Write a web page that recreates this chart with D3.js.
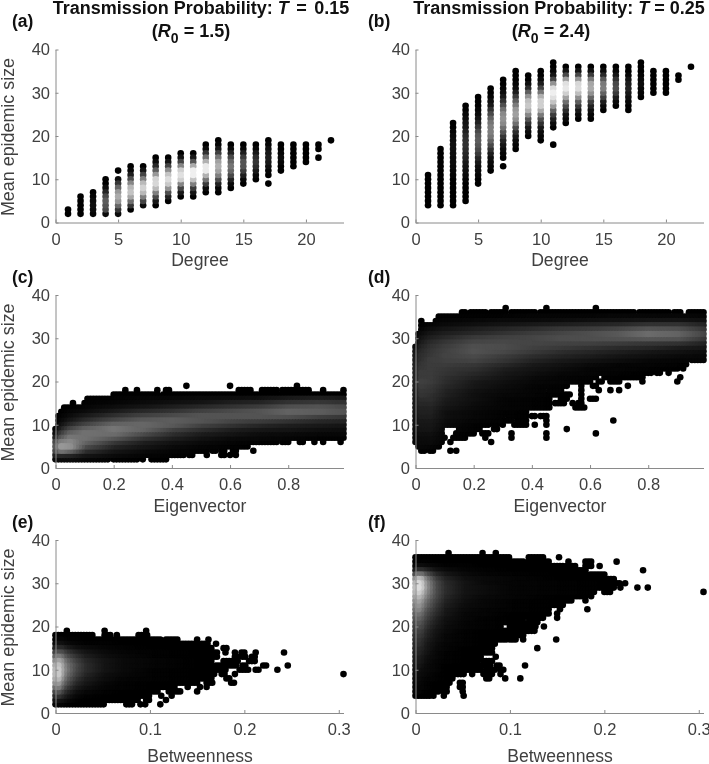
<!DOCTYPE html>
<html>
<head>
<meta charset="utf-8">
<script src="https://cdn.jsdelivr.net/npm/d3@7"></script>
<style>
  html, body { margin: 0; background: #fff; overflow: hidden; }
  text { font-family: "Liberation Sans", Arial, sans-serif; }
  svg { display: block; filter: blur(0.35px); }
</style>
</head>
<body>
<script>
"use strict";

// tick labels
var sizeTicks = [0, 10, 20, 30, 40];
var degreeTicks = [0, 5, 10, 15, 20];
var eigenTicks = [0, 0.2, 0.4, 0.6, 0.8];
var betweenTicks = [0, 0.1, 0.2, 0.3];

// panels a, b: one column per degree. low = first size level, shades from there up
// (0 black .. 100 white, null = no point at that level)
var degrees = d3.range(1, 23);
var lowA = [2, 2, 2, 2, 2, 3, 4, 4, 5, 6, 6, 7, 7, 8, 9, 10, 9, 12, 13, 14, 15, 19];
var shadeA = [
  [0, 0],
  [0, 0, 0, 0, 0],
  [2, 5, 6, 5, 2, 0],
  [5, 30, 35, 38, 30, 15, 6, 0, 0],
  [5, 22, 42, 62, 70, 62, 42, 22, 6, null, 0],
  [0, 22, 45, 68, 80, 75, 55, 32, 12, 3, 0],
  [4, 28, 52, 76, 86, 76, 52, 28, 8, 0],
  [0, 10, 30, 52, 76, 88, 86, 62, 38, 16, 4, 0],
  [0, 14, 32, 60, 82, 90, 80, 58, 28, 8, 0],
  [0, 10, 28, 55, 85, 92, 85, 55, 28, 8, 0],
  [0, 8, 24, 52, 80, 98, 98, 70, 35, 10, 0],
  [0, 5, 24, 48, 72, 96, 96, 72, 45, 20, 5, 0],
  [0, 2, 14, 32, 52, 66, 72, 66, 48, 26, 10, 2, 0],
  [0, 4, 14, 30, 42, 48, 42, 30, 14, 4, 0],
  [0, 3, 12, 24, 34, 34, 24, 12, 3, 0],
  [0, 3, 10, 18, 22, 18, 10, 3, 0],
  [0, null, 0, 2, 6, 10, 12, 10, 6, 2, 0],
  [0, 0, 3, 5, 3, 0, 0],
  [0, 0, 0, 0, 0, 0],
  [0, 0, 0, 0, 0],
  [0, null, 0, 0],
  [0]
];
var lowB = [4, 4, 4, 5, 9, 12, 13, 17, 20, 19, 18, 23, 24, 24, 26, 27, 26, 29, 30, 30, 33, 36];
var shadeB = [
  [0, 0, 0, 0, 0, 0, 0, 0],
  [0, 0, 0, 0, 0, 0, 0, 0, 0, 0, 0, 0, 0, 0],
  [0, 0, 0, 0, 0, 0, 0, 2, 3, 4, 5, 5, 6, 6, 6, 5, 4, 2, 0, 0],
  [0, 0, 0, 0, 0, 2, 4, 6, 8, 10, 14, 16, 18, 20, 20, 18, 14, 10, 8, 5, 3, 0, 0],
  [0, 0, 2, 4, 6, 10, 16, 24, 30, 35, 38, 36, 30, 22, 14, 8, 4, 2, 0, 0, 0],
  [0, 2, 4, 6, 12, 20, 30, 40, 48, 52, 52, 48, 40, 30, 20, 10, 6, 2, 0, 0],
  [0, null, 0, 2, 4, 8, 14, 22, 34, 46, 56, 60, 56, 46, 32, 20, 10, 5, 2, 0, 0],
  [0, 2, 5, 10, 18, 30, 45, 58, 65, 62, 50, 38, 24, 12, 5, 2, 0, 0, 0],
  [0, 4, 10, 20, 34, 55, 72, 82, 78, 60, 38, 18, 6, 0, 0],
  [0, 2, 5, 10, 20, 32, 50, 70, 85, 85, 72, 48, 28, 12, 4, 0, 0],
  [0, null, null, null, 0, 4, 12, 24, 40, 62, 80, 92, 98, 90, 60, 28, 8, 2, 0, 0],
  [0, 4, 8, 18, 30, 45, 66, 85, 95, 92, 65, 30, 8, 0],
  [0, 4, 10, 22, 38, 58, 78, 90, 88, 62, 30, 8, 0],
  [0, 2, 6, 14, 26, 42, 60, 70, 68, 50, 24, 6, 0],
  [0, 4, 12, 26, 40, 52, 50, 36, 16, 4, 0],
  [0, 4, 12, 24, 32, 30, 20, 8, 2, 0],
  [0, 0, 3, 6, 10, 14, 12, 8, 3, 0, 0],
  [0, 2, 3, 5, 4, 2, 0, 0, 0],
  [0, 0, 0, 0, 0, 0],
  [0, 0, 0, 0, 0, 0],
  [0, 0],
  [0]
];

// panels c-f: runs of points per size level, first row = first level, [from, to] on x.
// shade tables: one row per level, one value per anchor in the bins array
var eigenBins = [0, 0.02, 0.05, 0.1, 0.2, 0.3, 0.4, 0.5, 0.6, 0.7, 0.8, 0.9, 0.99];
var betweenBins = [0, 0.003, 0.006, 0.01, 0.02, 0.03, 0.05, 0.07, 0.1, 0.15];

var runsC = [
  [[0, .18], [.2, .28], [.3, .3], [.33, .38]],
  [[0, .44], [.46, .47], [.52, .52], [.57, .58], [.6, .6], [.62, .62]],
  [[0, .52], [.54, .55], [.57, .58], [.61, .62], [.68, .68]],
  [[0, .6], [.62, .66]],
  [[0, .76], [.78, .8], [.84, .85], [.89, .89], [.92, .92], [.98, .98]],
  [[0, .99]],
  [[0, .99]],
  [[0, .99]],
  [[.01, .99]],
  [[.01, .99]],
  [[.01, .99]],
  [[.02, .99]],
  [[.03, .99]],
  [[.06, .06], [.1, .99]],
  [[.11, .99]],
  [[.2, .35], [.37, .99]],
  [[.24, .24], [.28, .28], [.35, .35], [.38, .39], [.63, .67], [.71, .76], [.78, .87], [.92, .92], [.99, .99]],
  [[.45, .45], [.6, .6], [.83, .83]]
];
var shadeC = [
  [4, 5, 5, 3, 1, 0, 0, 0, 0, 0, 0, 0, 0],
  [14, 16, 14, 8, 4, 2, 1, 0, 0, 0, 0, 0, 0],
  [30, 46, 38, 18, 8, 4, 2, 1, 0, 0, 0, 0, 0],
  [36, 62, 58, 30, 14, 8, 4, 2, 1, 0, 0, 0, 0],
  [30, 50, 55, 40, 22, 12, 7, 4, 2, 1, 1, 0, 0],
  [14, 34, 48, 46, 34, 20, 12, 7, 4, 3, 2, 1, 1],
  [6, 22, 38, 46, 44, 30, 18, 11, 8, 5, 4, 3, 3],
  [2, 12, 26, 38, 48, 40, 26, 18, 12, 9, 8, 6, 5],
  [0, 6, 15, 26, 40, 42, 36, 26, 20, 15, 12, 10, 8],
  [0, 3, 8, 16, 28, 36, 38, 34, 28, 24, 20, 16, 14],
  [0, 1, 4, 9, 18, 26, 30, 34, 34, 34, 32, 26, 22],
  [0, 0, 2, 4, 10, 16, 20, 26, 30, 34, 40, 38, 34],
  [0, 0, 0, 2, 5, 8, 12, 16, 20, 24, 32, 34, 30],
  [0, 0, 0, 1, 2, 4, 6, 8, 12, 14, 20, 22, 20],
  [0, 0, 0, 0, 1, 2, 3, 4, 5, 6, 10, 12, 10]
];

var runsD = [
  [[.02, .03], [.05, .06], [.12, .12], [.14, .14]],
  [[.01, .08]],
  [[0, .09], [.12, .12], [.26, .26]],
  [[0, .1], [.13, .17], [.24, .24], [.33, .33], [.45, .45]],
  [[0, .09], [.14, .2], [.23, .25], [.33, .33], [.45, .45], [.62, .62]],
  [[0, .09], [.15, .22], [.27, .28], [.52, .52]],
  [[0, .25], [.27, .28], [.3, .3], [.34, .38], [.41, .41], [.45, .45]],
  [[0, .27], [.29, .33], [.35, .38], [.45, .45], [.68, .68]],
  [[0, .3], [.32, .38], [.4, .41], [.43, .45]],
  [[0, .38]],
  [[0, .46], [.55, .58]],
  [[0, .46], [.48, .51], [.54, .54], [.56, .57]],
  [[0, .4], [.42, .46], [.5, .52], [.57, .57], [.6, .62]],
  [[0, .53], [.57, .57]],
  [[0, .44], [.46, .5], [.57, .57], [.63, .63], [.67, .67], [.7, .7]],
  [[0, .52], [.57, .57], [.61, .62], [.73, .73]],
  [[0, .6], [.63, .64], [.67, .7], [.78, .78], [.9, .9]],
  [[0, .62], [.65, .78], [.91, .91]],
  [[0, .8], [.81, .81], [.83, .84], [.87, .87]],
  [[0, .9], [.92, .92]],
  [[0, .93]],
  [[0, .93], [.95, .99]],
  [[0, .99]],
  [[0, .99]],
  [[0, .99]],
  [[.01, .99]],
  [[.01, .99]],
  [[.01, .99]],
  [[.02, .99]],
  [[.02, .99]],
  [[.02, .02], [.07, .99]],
  [[.08, .99]],
  [[.16, .17], [.19, .24], [.26, .31], [.33, .36], [.37, .41], [.43, .55], [.56, .61], [.63, .75], [.77, .87], [.89, .91], [.94, .99]],
  [[.31, .31], [.45, .45], [.62, .62]]
];
var shadeD = [
  [0, 0, 0, 0, 0, 0, 0, 0, 0, 0, 0, 0, 0],
  [2, 3, 2, 0, 0, 0, 0, 0, 0, 0, 0, 0, 0],
  [2, 4, 4, 1, 0, 0, 0, 0, 0, 0, 0, 0, 0],
  [3, 5, 5, 2, 0, 0, 0, 0, 0, 0, 0, 0, 0],
  [4, 6, 6, 2, 0, 0, 0, 0, 0, 0, 0, 0, 0],
  [5, 8, 8, 3, 1, 0, 0, 0, 0, 0, 0, 0, 0],
  [6, 9, 9, 4, 1, 0, 0, 0, 0, 0, 0, 0, 0],
  [6, 10, 10, 5, 2, 1, 0, 0, 0, 0, 0, 0, 0],
  [7, 12, 12, 6, 3, 1, 0, 0, 0, 0, 0, 0, 0],
  [8, 13, 13, 6, 3, 1, 0, 0, 0, 0, 0, 0, 0],
  [9, 14, 14, 8, 4, 2, 1, 0, 0, 0, 0, 0, 0],
  [10, 16, 16, 10, 5, 2, 1, 0, 0, 0, 0, 0, 0],
  [10, 18, 18, 11, 6, 2, 1, 0, 0, 0, 0, 0, 0],
  [11, 21, 19, 13, 6, 3, 2, 0, 0, 0, 0, 0, 0],
  [12, 22, 21, 14, 7, 4, 2, 1, 0, 0, 0, 0, 0],
  [13, 24, 22, 16, 9, 5, 2, 1, 0, 0, 0, 0, 0],
  [13, 26, 24, 18, 10, 6, 3, 2, 0, 0, 0, 0, 0],
  [14, 24, 24, 19, 13, 8, 4, 2, 1, 0, 0, 0, 0],
  [14, 24, 24, 21, 16, 10, 6, 3, 2, 1, 0, 0, 0],
  [14, 22, 24, 22, 19, 12, 8, 5, 2, 2, 1, 0, 0],
  [13, 21, 24, 24, 22, 16, 10, 7, 4, 2, 2, 1, 1],
  [11, 19, 24, 26, 27, 21, 14, 10, 7, 5, 3, 2, 2],
  [10, 18, 22, 27, 30, 24, 18, 14, 11, 8, 6, 4, 3],
  [8, 16, 21, 26, 33, 29, 23, 18, 15, 12, 9, 7, 5],
  [5, 13, 19, 24, 32, 31, 26, 23, 20, 17, 15, 11, 9],
  [2, 10, 16, 21, 28, 29, 28, 27, 26, 24, 22, 20, 14],
  [0, 7, 12, 16, 23, 26, 28, 31, 32, 33, 35, 33, 22],
  [0, 4, 8, 12, 16, 20, 24, 28, 32, 36, 44, 40, 28],
  [0, 2, 5, 8, 12, 15, 18, 22, 24, 28, 34, 32, 22],
  [0, 1, 2, 4, 6, 8, 10, 12, 14, 16, 20, 20, 14],
  [0, 0, 1, 2, 3, 4, 4, 5, 6, 7, 8, 8, 6],
  [0, 0, 0, 1, 1, 1, 2, 2, 2, 3, 3, 3, 2]
];

var runsE = [
  [[0, .051], [.075, .08], [.09, .09], [.095, .095], [.111, .111]],
  [[0, .088], [.096, .099], [.117, .117]],
  [[0, .1], [.112, .112], [.123, .123]],
  [[0, .108], [.12, .132], [.15, .15]],
  [[0, .125], [.14, .141], [.153, .153], [.16, .16]],
  [[0, .15], [.16, .165], [.186, .189]],
  [[0, .165], [.181, .183]],
  [[0, .168], [.176, .18], [.19, .19], [.305, .305]],
  [[0, .18], [.195, .204], [.212, .216], [.235, .235]],
  [[0, .165], [.17, .19], [.198, .2], [.22, .224], [.246, .246]],
  [[0, .165], [.178, .192], [.205, .21]],
  [[0, .17], [.19, .192], [.198, .2], [.208, .212]],
  [[0, .17], [.18, .18], [.19, .19], [.197, .2], [.212, .212], [.242, .242]],
  [[0, .165], [.178, .182]],
  [[0, .15], [.155, .16], [.17, .17]],
  [[0, .11], [.117, .128], [.15, .15], [.162, .162]],
  [[0, .04], [.052, .058], [.065, .065], [.088, .098]],
  [[.012, .012], [.052, .052], [.096, .096]]
];
var shadeE = [
  [2, 2, 2, 1, 0, 0, 0, 0, 0, 0],
  [8, 8, 7, 4, 1, 0, 0, 0, 0, 0],
  [18, 20, 15, 9, 3, 1, 0, 0, 0, 0],
  [30, 34, 26, 16, 6, 3, 1, 0, 0, 0],
  [45, 50, 38, 24, 11, 6, 2, 1, 0, 0],
  [60, 62, 48, 33, 16, 9, 3, 1, 0, 0],
  [70, 74, 58, 40, 21, 12, 5, 2, 1, 0],
  [76, 82, 66, 46, 26, 15, 6, 3, 1, 0],
  [76, 82, 68, 50, 29, 18, 8, 4, 1, 0],
  [70, 78, 66, 48, 30, 18, 8, 4, 2, 0],
  [58, 66, 58, 42, 26, 16, 8, 4, 2, 0],
  [42, 50, 44, 32, 20, 12, 6, 3, 1, 0],
  [28, 32, 30, 22, 13, 8, 4, 2, 1, 0],
  [14, 17, 16, 11, 6, 4, 2, 1, 0, 0],
  [5, 7, 6, 4, 2, 1, 1, 0, 0, 0],
  [1, 2, 2, 1, 1, 0, 0, 0, 0, 0]
];

var runsF = [
  [[0, .015], [.019, .019], [.03, .03], [.051, .051]],
  [[0, .024], [.03, .033], [.05, .05]],
  [[0, .02], [.024, .033], [.047, .05]],
  [[0, .035], [.047, .05]],
  [[0, .04], [.075, .078], [.095, .095], [.111, .111]],
  [[0, .05], [.06, .06], [.072, .082], [.09, .09]],
  [[0, .07], [.075, .085], [.09, .092]],
  [[0, .065], [.07, .08], [.086, .09], [.116, .116]],
  [[0, .065], [.072, .08]],
  [[0, .068], [.085, .085]],
  [[0, .082]],
  [[0, .08], [.129, .129]],
  [[0, .085]],
  [[0, .095], [.1, .105], [.114, .114], [.149, .149]],
  [[0, .1], [.105, .115]],
  [[0, .11], [.115, .118], [.12, .125]],
  [[0, .09], [.1, .128], [.136, .136]],
  [[0, .115], [.12, .13]],
  [[0, .115], [.12, .135], [.15, .15]],
  [[0, .14], [.15, .15]],
  [[0, .14], [.153, .153], [.182, .182]],
  [[0, .155]],
  [[0, .165], [.18, .18]],
  [[0, .18], [.186, .186]],
  [[0, .19], [.2, .205], [.305, .305]],
  [[0, .21], [.217, .218], [.235, .235], [.246, .246]],
  [[0, .215], [.222, .222]],
  [[0, .21]],
  [[0, .18], [.185, .2]],
  [[0, .18], [.241, .241]],
  [[0, .155], [.16, .17], [.18, .187], [.195, .195]],
  [[0, .115], [.12, .14], [.162, .162], [.18, .185], [.213, .213]],
  [[0, .1], [.12, .135], [.152, .152]],
  [[.035, .035], [.071, .071], [.085, .085]]
];
var shadeF = [
  [0, 0, 0, 0, 0, 0, 0, 0, 0, 0],
  [2, 2, 1, 0, 0, 0, 0, 0, 0, 0],
  [2, 2, 2, 1, 0, 0, 0, 0, 0, 0],
  [3, 3, 2, 1, 0, 0, 0, 0, 0, 0],
  [4, 4, 3, 2, 1, 0, 0, 0, 0, 0],
  [5, 5, 4, 3, 1, 0, 0, 0, 0, 0],
  [6, 6, 5, 4, 2, 0, 0, 0, 0, 0],
  [8, 8, 6, 4, 2, 0, 0, 0, 0, 0],
  [10, 10, 8, 5, 2, 1, 0, 0, 0, 0],
  [11, 11, 9, 6, 3, 1, 0, 0, 0, 0],
  [13, 14, 11, 8, 3, 1, 0, 0, 0, 0],
  [15, 15, 13, 9, 4, 2, 0, 0, 0, 0],
  [16, 18, 15, 10, 5, 2, 1, 0, 0, 0],
  [18, 20, 17, 12, 6, 3, 1, 0, 0, 0],
  [20, 23, 20, 14, 7, 3, 1, 0, 0, 0],
  [23, 26, 23, 16, 8, 4, 1, 0, 0, 0],
  [26, 30, 27, 19, 10, 5, 2, 1, 0, 0],
  [30, 35, 30, 22, 12, 6, 2, 1, 0, 0],
  [34, 40, 35, 26, 14, 7, 3, 1, 0, 0],
  [40, 46, 40, 30, 17, 9, 3, 2, 0, 0],
  [46, 54, 46, 34, 20, 10, 4, 2, 1, 0],
  [52, 60, 52, 40, 23, 12, 5, 3, 1, 0],
  [58, 66, 58, 44, 26, 14, 6, 3, 1, 0],
  [66, 74, 66, 50, 29, 16, 7, 4, 2, 0],
  [74, 84, 74, 56, 31, 18, 8, 5, 2, 1],
  [78, 90, 82, 60, 31, 18, 8, 5, 2, 1],
  [74, 88, 80, 58, 30, 17, 8, 4, 2, 1],
  [60, 76, 70, 50, 25, 14, 6, 4, 2, 0],
  [32, 46, 44, 32, 16, 9, 4, 2, 1, 0],
  [12, 18, 18, 14, 7, 4, 2, 1, 0, 0],
  [3, 5, 5, 4, 2, 1, 1, 0, 0, 0],
  [0, 1, 1, 1, 0, 0, 0, 0, 0, 0]
];

var gray = d3.scaleLinear().domain([0, 100]).range(["#000000", "#f4f4f4"]);

// points of a degree panel
function degreePoints(low, shade) {
  var pts = [];
  degrees.forEach(function(k, i) {
    shade[i].forEach(function(s, j) {
      if (s !== null) pts.push({x: k, y: low[i] + j, s: s});
    });
  });
  return pts;
}

// points of a dense panel, runs stepped on the x grid
function densePoints(firstLevel, runs, shade, bins, step) {
  var pts = [];
  runs.forEach(function(levelRuns, i) {
    var ramp = shade[i] ? d3.scaleLinear().domain(bins).range(shade[i]) : function() { return 0; };
    levelRuns.forEach(function(run) {
      d3.range(run[0], run[1] + step / 2, step).forEach(function(x) {
        pts.push({x: x, y: firstLevel + i, s: ramp(x)});
      });
    });
  });
  return pts;
}

var svg = d3.select("body").append("svg")
    .attr("width", 709)
    .attr("height", 764);

function drawPanel(p) {
  var xScale = d3.scaleLinear().domain(p.xDomain).range([p.left, p.left + 288]);
  var yScale = d3.scaleLinear().domain([0, 40]).range([p.bottom, p.bottom - 173]);

  var g = svg.append("g");

  g.append("g").selectAll("circle")
    .data(p.points.slice().sort(function(a, b) { return a.s - b.s; }))
    .join("circle")
      .attr("cx", function(d) { return xScale(d.x); })
      .attr("cy", function(d) { return yScale(d.y); })
      .attr("r", 3.3)
      .attr("fill", function(d) { return gray(d.s); });

  var xAxis = d3.axisBottom(xScale)
      .tickValues(p.xTicks)
      .tickFormat(String)
      .tickSizeInner(-3)
      .tickSizeOuter(0)
      .tickPadding(10.5);
  var yAxis = d3.axisLeft(yScale)
      .tickValues(sizeTicks)
      .tickFormat(String)
      .tickSizeInner(-3)
      .tickSizeOuter(0)
      .tickPadding(5.5);

  var gx = g.append("g").attr("transform", "translate(0," + p.bottom + ")").call(xAxis);
  var gy = g.append("g").attr("transform", "translate(" + p.left + ",0)").call(yAxis);
  [gx, gy].forEach(function(a) {
    a.selectAll("path, line").attr("stroke", "#8a8a8a");
    a.selectAll("text").attr("fill", "#404040").style("font-size", "16.5px");
  });

  g.append("text")
      .attr("x", p.left + 144.5)
      .attr("y", p.bottom + p.xLabelGap)
      .attr("text-anchor", "middle")
      .attr("fill", "#404040")
      .style("font-size", "17.6px")
      .text(p.xLabel);

  if (p.yLabel) {
    g.append("text")
        .attr("transform", "translate(14," + (p.bottom - 85.5) + ") rotate(-90)")
        .attr("text-anchor", "middle")
        .attr("fill", "#404040")
        .style("font-size", "17.9px")
        .text("Mean epidemic size");
  }

  g.append("text")
      .attr("x", p.tagX)
      .attr("y", p.tagY)
      .attr("fill", "#111")
      .style("font-size", "17.5px")
      .style("font-weight", "bold")
      .text(p.tag);
}

function drawTitle(cx1, cx2, t, r0, gap) {
  var line1 = svg.append("text")
      .attr("x", cx1)
      .attr("y", 14)
      .attr("text-anchor", "middle")
      .attr("fill", "#111")
      .style("font-size", "18px")
      .style("font-weight", "bold");
  line1.append("tspan").text("Transmission Probability: ");
  line1.append("tspan").style("font-style", "italic").text("T");
  line1.append("tspan").attr("dx", gap).text(" = ");
  line1.append("tspan").attr("dx", gap).text(t);

  var line2 = svg.append("text")
      .attr("x", cx2)
      .attr("y", 36.5)
      .attr("text-anchor", "middle")
      .attr("fill", "#111")
      .style("font-size", "18px")
      .style("font-weight", "bold");
  line2.append("tspan").text("(");
  line2.append("tspan").style("font-style", "italic").text("R");
  line2.append("tspan").attr("dy", 6).style("font-size", "14px").text("0");
  line2.append("tspan").attr("dy", -6).text(" = " + r0 + ")");
}

drawTitle(201, 191, "0.15", "1.5", 2.5);
drawTitle(559, 551, "0.25", "2.4", 0);

drawPanel({left: 55.5, bottom: 222.5, xDomain: [0, 23], xTicks: degreeTicks, xLabel: "Degree", xLabelGap: 43.5,
  yLabel: true, tag: "(a)", tagX: 12, tagY: 27, points: degreePoints(lowA, shadeA)});
drawPanel({left: 415.5, bottom: 222.5, xDomain: [0, 23], xTicks: degreeTicks, xLabel: "Degree", xLabelGap: 43.5,
  yLabel: false, tag: "(b)", tagX: 368, tagY: 27, points: degreePoints(lowB, shadeB)});
drawPanel({left: 55.5, bottom: 468, xDomain: [0, 0.99], xTicks: eigenTicks, xLabel: "Eigenvector", xLabelGap: 43.5,
  yLabel: true, tag: "(c)", tagX: 12, tagY: 282.5, points: densePoints(2, runsC, shadeC, eigenBins, 0.01)});
drawPanel({left: 415.5, bottom: 468, xDomain: [0, 0.99], xTicks: eigenTicks, xLabel: "Eigenvector", xLabelGap: 43.5,
  yLabel: false, tag: "(d)", tagX: 368, tagY: 282.5, points: densePoints(4, runsD, shadeD, eigenBins, 0.01)});
drawPanel({left: 55.5, bottom: 713, xDomain: [0, 0.305], xTicks: betweenTicks, xLabel: "Betweenness", xLabelGap: 49,
  yLabel: true, tag: "(e)", tagX: 12, tagY: 527.5, points: densePoints(2, runsE, shadeE, betweenBins, 0.003)});
drawPanel({left: 415.5, bottom: 713, xDomain: [0, 0.305], xTicks: betweenTicks, xLabel: "Betweenness", xLabelGap: 49,
  yLabel: false, tag: "(f)", tagX: 368, tagY: 527.5, points: densePoints(4, runsF, shadeF, betweenBins, 0.003)});
</script>
</body>
</html>
